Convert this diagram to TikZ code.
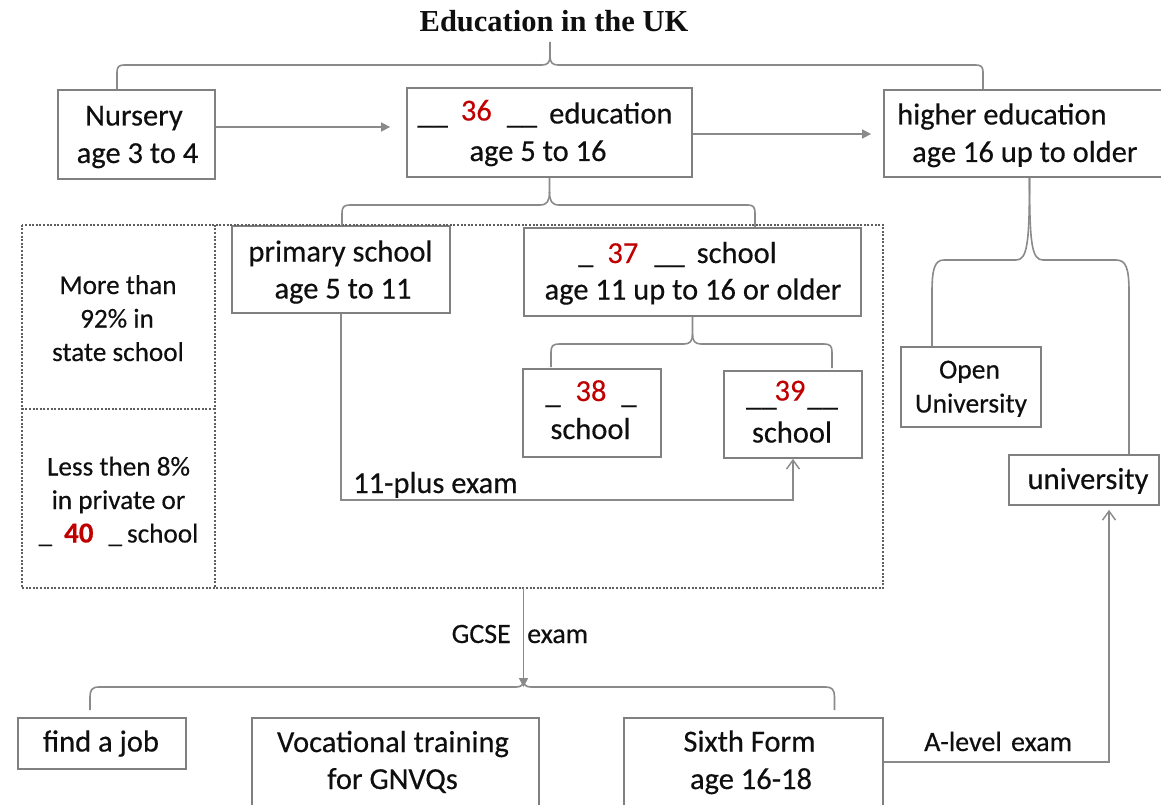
\documentclass[tikz,border=0pt]{standalone}
\usepackage{fontspec}
\setmainfont[FakeBold=0.35]{Carlito}
\newfontfamily\titlefont{Liberation Serif}
\usetikzlibrary{arrows.meta}
\definecolor{boxgray}{RGB}{128,128,128}
\definecolor{lngray}{RGB}{138,138,138}
\definecolor{dotgray}{RGB}{95,95,95}
\definecolor{numred}{RGB}{192,0,0}
\definecolor{ink}{RGB}{15,15,15}
\newcommand{\fsz}[2]{\fontsize{#1pt}{#2pt}\selectfont}
\begin{document}
\begin{tikzpicture}[x=1pt,y=-1pt,
  box/.style={draw=boxgray,line width=1.8pt,inner sep=0pt},
  cell/.style={inner sep=0pt},
  dotln/.style={draw=dotgray,line width=2.3pt,dash pattern=on 2pt off 1.6pt},
  conn/.style={draw=lngray,line width=1.6pt},
  arr/.style={conn,-{Triangle[length=9pt,width=9pt]}},
  barb/.style={conn,-{Straight Barb[length=9pt,width=13pt,line width=1.4pt]}},
  tx/.style={inner sep=0pt,text=ink,font=\fsz{30.5}{37.5},anchor=base},
  sm/.style={inner sep=0pt,text=ink,font=\fsz{27.2}{33.5},anchor=base},
  lbl/.style={inner sep=0pt,text=ink,font=\fsz{28}{33}},
]
\fill[white] (0,0) rectangle (1161,805);
\useasboundingbox (0,0) rectangle (1161,805);

% title
\node[inner sep=0pt,text=ink,font=\titlefont\bfseries\fsz{30.5}{36}] (title) at (554,21) {Education in the UK};

% ---------- boxes ----------
\node[box,minimum width=157,minimum height=89] (nur) at (136.5,134.5) {};
\node[box,minimum width=285,minimum height=89] (edu) at (549.5,132.5) {};
\node[box,minimum width=291,minimum height=87] (high) at (1029.5,133.5) {};
\node[box,minimum width=218,minimum height=87] (prim) at (341,269.5) {};
\node[box,minimum width=337,minimum height=88] (sec) at (692.5,272) {};
\node[box,minimum width=138,minimum height=88] (b38) at (592,413) {};
\node[box,minimum width=138,minimum height=87] (b39) at (793,414.5) {};
\node[box,minimum width=140,minimum height=80] (ou) at (971,387) {};
\node[box,minimum width=150,minimum height=50] (uni) at (1084,480) {};
\node[box,minimum width=168,minimum height=51] (job) at (102,743.5) {};
\node[box,minimum width=287,minimum height=88] (voc) at (395.5,762) {};
\node[box,minimum width=259,minimum height=88] (six) at (753.5,762) {};

% dotted frames
\node[cell,minimum width=668,minimum height=363] (stt) at (549,406.5) {};
\node[cell,minimum width=192,minimum height=184] (more) at (118,317) {};
\node[cell,minimum width=192,minimum height=179] (less) at (118,498.5) {};
\draw[dotln] (more.north west) rectangle (stt.south east);
\draw[dotln] (stt.north west) -- (stt.south west);
\draw[dotln] (more.south west) -- (more.south east);

% ---------- texts ----------
\node[tx] (nurA) at (134,125.5) {Nursery};
\node[tx] (nurB) at (137.5,163) {age 3 to 4};
\node[tx] (eduA) at (545,123.5) {\_\_\kern13pt\raisebox{3pt}{\textcolor{numred}{36}}\kern15pt\_\_\kern12pt education};
\node[tx] (eduB) at (538,161) {age 5 to 16};
\node[tx,anchor=base west] (highA) at (897,124.5) {higher education};
\node[tx,anchor=base west] (highB) at (912,162) {age 16 up to older};

\node[sm] (moreA) at (118,294) {More than};
\node[sm] (moreB) at (117,327.5) {92\% in};
\node[sm] (moreC) at (118,361) {state school};
\node[sm] (lessA) at (118.5,475.5) {Less then 8\%};
\node[sm] (lessB) at (118.5,509) {in private or};
\node[sm] (lessC) at (118.5,542.5) {\_\kern12pt{\fsz{29}{33.5}\bfseries\textcolor{numred}{40}}\kern15pt\_\kern5pt school};

\node[tx] (primA) at (340.5,261.5) {primary school};
\node[tx] (primB) at (343,298.5) {age 5 to 11};
\node[tx] (secA) at (677.5,263) {\_\kern14pt\textcolor{numred}{37}\kern16pt\_\_\kern12pt school};
\node[tx] (secB) at (693,299.5) {age 11 up to 16 or older};
\node[tx] (b38A) at (591,403) {\_\kern15pt\raisebox{2pt}{\textcolor{numred}{38}}\kern15pt\_};
\node[tx] (b38B) at (590.5,439) {school};
\node[tx] (b39A) at (792,405.5) {\_\_\kern-2pt\raisebox{5pt}{\textcolor{numred}{39}}\kern2pt\_\_};
\node[tx] (b39B) at (792,442.5) {school};
\node[tx,anchor=base west] (plus) at (353,493) {11-plus exam};

\node[sm,font=\fsz{27.5}{34}] (ouA) at (969.5,378.5) {Open};
\node[sm,font=\fsz{27.5}{34}] (ouB) at (971,412.5) {University};
\node[tx] (uniA) at (1088,489) {university};

\node[tx] (jobA) at (101,751.5) {find a job};
\node[tx] (vocA) at (393,752) {Vocational training};
\node[tx] (vocB) at (392.5,789) {for GNVQs};
\node[tx] (sixA) at (749.5,751.5) {Sixth Form};
\node[tx] (sixB) at (751,789) {age 16-18};

% labels
\node[lbl,anchor=base east] (gcse) at (511,643) {GCSE};
\node[lbl,anchor=base west] (exam) at (527,643) {exam};
\node[lbl,anchor=base west] (alev) at (924,751) {A-level\kern3pt\ exam};

% ---------- connectors ----------
\coordinate (tt) at (550,42);
\coordinate (bt) at (523.5,687);
\coordinate (bl) at (90,710);
\coordinate (br) at (834.5,710);

% top brace
\draw[conn] (nur.north -| 117,0) -- (117,72) .. controls (117,67) and (119,65) .. (124,65) -- (542,65)
  .. controls (548,65) and (550,62) .. (550,56) -- (tt);
\draw[conn] (550,56) .. controls (550,62) and (552,65) .. (558,65) -- (976,65)
  .. controls (981,65) and (983,67) .. (983,72) -- (high.north -| 983,0);

% arrows along top row
\draw[arr, shorten >=16pt] (nur.east |- 0,127) -- (edu.west |- 0,127);
\draw[arr, shorten >=12pt] (edu.east |- 0,134) -- (high.west |- 0,134);

% brace under compulsory education
\draw[conn] (edu.south) -- (549.5,192) .. controls (549.5,201) and (547,205) .. (540,205) -- (350,205)
  .. controls (344,205) and (342,207) .. (342,213) -- (prim.north -| 342,0);
\draw[conn] (549.5,192) .. controls (549.5,201) and (552,205) .. (559,205) -- (748,205)
  .. controls (753,205) and (755,207) .. (755,213) -- (sec.north -| 755,0);

% brace under secondary school
\draw[conn] (sec.south) -- (692.5,334) .. controls (692.5,341) and (690,344) .. (684,344) -- (559,344)
  .. controls (553,344) and (551,346) .. (551,352) -- (551,367);
\draw[conn] (692.5,334) .. controls (692.5,341) and (695,344) .. (701,344) -- (824,344)
  .. controls (830,344) and (832,346) .. (832,352) -- (832,368);

% 11-plus
\draw[barb] (prim.south) |- (b39.south |- 0,500) -- (b39.south);

% brace under higher education
\draw[conn] (high.south) .. controls (1029.5,245) and (1027,260) .. (1016,260) -- (944,260)
  .. controls (935,260) and (932,268) .. (932,292) -- (ou.north -| 932,0);
\draw[conn] (high.south) .. controls (1029.5,245) and (1032,260) .. (1043,260) -- (1116,260)
  .. controls (1126,260) and (1129,268) .. (1129,292) -- (uni.north -| 1129,0);

% GCSE and bottom brace
\draw[conn] (bl) -- (90,697) .. controls (90,690) and (92,687) .. (99,687) -- (516,687)
  .. controls (521,687) and (523.5,685) .. (523.5,680);
\draw[conn] (523.5,680) .. controls (523.5,685) and (526,687) .. (531,687) -- (826,687)
  .. controls (832,687) and (834.5,690) .. (834.5,697) -- (br);
\draw[arr] (stt.south -| 523.5,0) -- (bt);

% A-level
\draw[barb, shorten >=4pt] (six.east) -| (uni.south -| 1109,0);
\end{tikzpicture}
\end{document}
